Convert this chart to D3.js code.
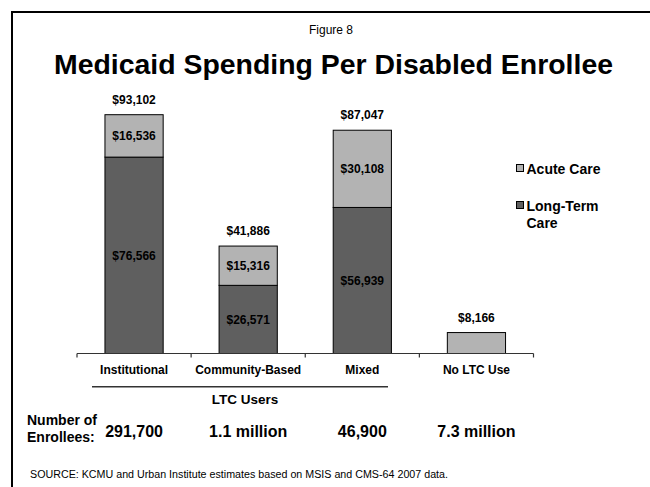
<!DOCTYPE html>
<html>
<head>
<meta charset="utf-8">
<script src="https://cdn.jsdelivr.net/npm/d3@7"></script>
<style>
  html, body { margin: 0; padding: 0; background: #fff; }
  svg { display: block; }
  text { font-family: "Liberation Sans", Arial, Helvetica, sans-serif; fill: #000; }
</style>
</head>
<body>
<svg id="chart" width="650" height="487"></svg>
<script>
// Spending per disabled enrollee, by type of long-term care use
const categories = ["Institutional", "Community-Based", "Mixed", "No LTC Use"];
const longTermCare = [76566, 26571, 56939, 0];
const acuteCare = [16536, 15316, 30108, 8166];
const totals = [93102, 41886, 87047, 8166];
const enrollees = ["291,700", "1.1 million", "46,900", "7.3 million"];
const legendItems = [
  { key: "acute", lines: ["Acute Care"] },
  { key: "ltc", lines: ["Long-Term", "Care"] }
];

const fills = { acute: "#b3b3b3", ltc: "#5f5f5f" };
const money = v => "$" + d3.format(",")(v);

const svg = d3.select("#chart");

// Slide frame (left and top edges visible)
svg.append("path")
  .attr("d", "M12,487 L12,12 L650,12")
  .attr("fill", "none")
  .attr("stroke", "#000")
  .attr("stroke-width", 2);

svg.append("text")
  .attr("x", 331).attr("y", 34)
  .attr("text-anchor", "middle")
  .attr("font-size", 12)
  .text("Figure 8");

svg.append("text")
  .attr("x", 333.5).attr("y", 74)
  .attr("text-anchor", "middle")
  .attr("font-size", 28)
  .attr("font-weight", "bold")
  .attr("textLength", 559)
  .attr("lengthAdjust", "spacingAndGlyphs")
  .text("Medicaid Spending Per Disabled Enrollee");

// Scales
const x = d3.scaleBand()
  .domain(categories)
  .range([77, 533.5])
  .paddingInner(0.49)
  .paddingOuter(0.245);

const y = d3.scaleLinear()
  .domain([0, 100000])
  .range([353.5, 97]);

const rows = categories.map((c, i) => ({
  cat: c,
  ltc: longTermCare[i],
  acute: acuteCare[i],
  total: totals[i],
  enrollees: enrollees[i]
}));

const stack = d3.stack().keys(["ltc", "acute"])(rows);

const plot = svg.append("g");

stack.forEach(layer => {
  plot.append("g")
    .selectAll("rect")
    .data(layer.filter(d => d[1] > d[0]))
    .join("rect")
    .attr("x", d => x(d.data.cat))
    .attr("width", x.bandwidth())
    .attr("y", d => y(d[1]))
    .attr("height", d => y(d[0]) - y(d[1]))
    .attr("fill", fills[layer.key])
    .attr("stroke", "#000")
    .attr("stroke-width", 1);

  // segment values inside bars that have both parts
  plot.append("g")
    .selectAll("text")
    .data(layer.filter(d => d[1] > d[0] && d.data.ltc > 0))
    .join("text")
    .attr("x", d => x(d.data.cat) + x.bandwidth() / 2)
    .attr("y", d => (y(d[0]) + y(d[1])) / 2)
    .attr("dy", "0.36em")
    .attr("text-anchor", "middle")
    .attr("font-size", 12)
    .attr("font-weight", "bold")
    .text(d => money(d[1] - d[0]));
});

// totals above bars
plot.append("g")
  .selectAll("text")
  .data(rows)
  .join("text")
  .attr("x", d => x(d.cat) + x.bandwidth() / 2)
  .attr("y", d => y(d.total) - 11)
  .attr("text-anchor", "middle")
  .attr("font-size", 12)
  .attr("font-weight", "bold")
  .text(d => money(d.total));

// Category axis with ticks between groups
const [x0, x1] = x.range();
const step = x.step();
const boundaries = d3.range(categories.length + 1).map(i => x0 + i * step);
const axis = svg.append("g").attr("stroke", "#333");
axis.append("line")
  .attr("x1", x0).attr("x2", x1)
  .attr("y1", y(0)).attr("y2", y(0))
  .attr("stroke-width", 1.2);
axis.selectAll("line.tick")
  .data(boundaries)
  .join("line")
  .attr("class", "tick")
  .attr("x1", d => d).attr("x2", d => d)
  .attr("y1", y(0)).attr("y2", y(0) + 4)
  .attr("stroke-width", 1.2);

svg.append("g")
  .selectAll("text")
  .data(categories)
  .join("text")
  .attr("x", d => x(d) + x.bandwidth() / 2)
  .attr("y", 373.5)
  .attr("text-anchor", "middle")
  .attr("font-size", 12)
  .attr("font-weight", "bold")
  .text(d => d);

// Grouping line for LTC users
svg.append("line")
  .attr("x1", 92).attr("x2", 388)
  .attr("y1", 386.7).attr("y2", 386.7)
  .attr("stroke", "#333")
  .attr("stroke-width", 1.5);

svg.append("text")
  .attr("x", 245).attr("y", 404)
  .attr("text-anchor", "middle")
  .attr("font-size", 13.5)
  .attr("font-weight", "bold")
  .text("LTC Users");

// Enrollee counts
const enr = svg.append("g");
enr.append("text")
  .attr("x", 27).attr("y", 425)
  .attr("font-size", 14).attr("font-weight", "bold")
  .text("Number of");
enr.append("text")
  .attr("x", 27).attr("y", 441.7)
  .attr("font-size", 14).attr("font-weight", "bold")
  .text("Enrollees:");
enr.selectAll("text.count")
  .data(rows)
  .join("text")
  .attr("class", "count")
  .attr("x", d => x(d.cat) + x.bandwidth() / 2)
  .attr("y", 436.7)
  .attr("text-anchor", "middle")
  .attr("font-size", 16)
  .attr("font-weight", "bold")
  .text(d => d.enrollees);

// Legend
const legend = svg.append("g");
legendItems.forEach((item, i) => {
  const top = 164 + i * 37;
  legend.append("rect")
    .attr("x", 516.5).attr("y", top + 0.5)
    .attr("width", 7).attr("height", 7)
    .attr("fill", fills[item.key])
    .attr("stroke", "#000")
    .attr("stroke-width", 1);
  item.lines.forEach((ln, j) => {
    legend.append("text")
      .attr("x", 526.5).attr("y", top + 10 + j * 16.6)
      .attr("font-size", 14)
      .attr("font-weight", "bold")
      .text(ln);
  });
});

svg.append("text")
  .attr("x", 30).attr("y", 477.7)
  .attr("font-size", 10)
  .attr("textLength", 418)
  .attr("lengthAdjust", "spacingAndGlyphs")
  .text("SOURCE: KCMU and Urban Institute estimates based on MSIS and CMS-64 2007 data.");
</script>
</body>
</html>
